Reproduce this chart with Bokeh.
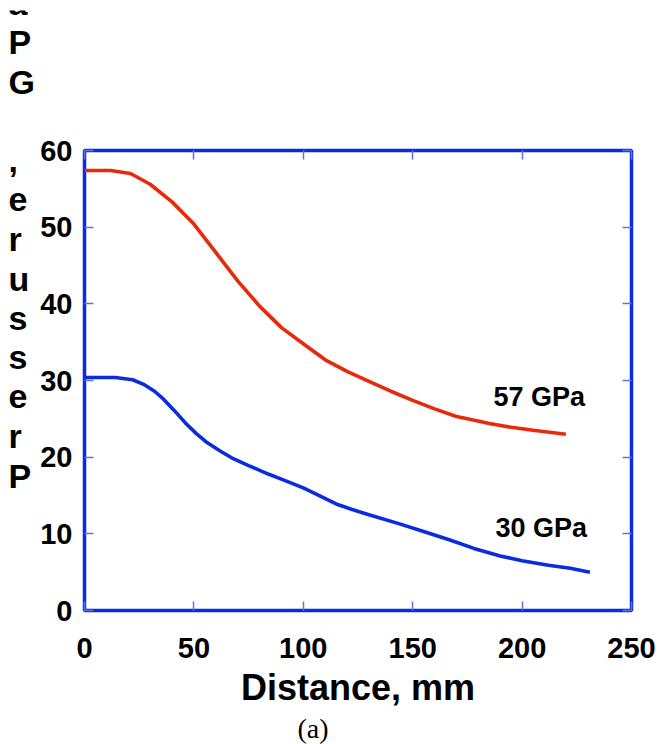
from bokeh.plotting import figure
from bokeh.models import LinearAxis, FixedTicker, Label, Spacer, Range1d, Title
from bokeh.layouts import column, row
from bokeh.core.properties import value
from bokeh.embed import file_html
from bokeh.resources import INLINE

# ---- data ----
distance_57 = [0, 12, 21, 30, 40, 50, 60, 70, 80, 90, 100, 110, 120, 130, 140,
               150, 160, 170, 175, 185, 195, 205, 220]
pressure_57 = [57.4, 57.4, 57.0, 55.6, 53.3, 50.4, 46.7, 43.0, 39.7, 36.9, 34.8,
               32.7, 31.2, 29.9, 28.6, 27.4, 26.3, 25.3, 25.0, 24.4, 23.9, 23.5, 23.0]

distance_30 = [0, 14, 22, 27, 32, 36, 41, 46, 51, 56, 62, 68, 75, 84, 92, 100,
               108, 115, 122, 130, 144, 155, 167, 178, 190, 200, 212, 222, 231]
pressure_30 = [30.4, 30.4, 30.1, 29.5, 28.6, 27.6, 26.1, 24.5, 23.1, 21.9, 20.8,
               19.8, 18.9, 17.8, 16.9, 16.0, 14.9, 13.9, 13.2, 12.5, 11.3, 10.3,
               9.2, 8.1, 7.1, 6.5, 5.9, 5.5, 5.0]

x_ticks = [0, 50, 100, 150, 200, 250]
y_ticks = [0, 10, 20, 30, 40, 50, 60]
series_labels = ["57 GPa", "30 GPa"]
x_title = "Distance, mm"
y_title = "Pressure, GPa"
caption = "(a)"

# ---- styles ----
BLUE = "#0b2be0"
RED = "#e8290b"
TICK = "#5b73ee"
FONT = "Liberation Sans"

X_MAX, Y_MAX = 250, 60
PX_PER_Y = 460 / Y_MAX          # frame height / y span
CANVAS_H = 734
BORDER_TOP, BORDER_BOTTOM = 140, 134
STRIP_W = 35

p = figure(width=660 - STRIP_W, height=CANVAS_H, x_range=Range1d(0, X_MAX),
           y_range=Range1d(0, Y_MAX),
           output_backend="svg", toolbar_location=None,
           min_border_left=49, min_border_right=29, min_border_top=BORDER_TOP,
           min_border_bottom=BORDER_BOTTOM)
p.frame_align = False
p.grid.visible = False
p.outline_line_color = BLUE
p.outline_line_width = 3.5
p.background_fill_color = "white"
p.border_fill_color = "white"


def style_axis(ax, ticks, show_labels):
    ax.ticker = FixedTicker(ticks=ticks)
    ax.axis_line_color = None
    ax.major_tick_in = 9
    ax.major_tick_out = 0
    ax.major_tick_line_color = TICK
    ax.major_tick_line_width = 1.5
    ax.minor_tick_line_color = None
    ax.major_label_text_font = FONT
    ax.major_label_text_font_style = "bold"
    ax.major_label_text_font_size = "29px"
    ax.major_label_text_color = "black" if show_labels else None
    ax.axis_label_standoff = 0


style_axis(p.xaxis[0], x_ticks, True)
style_axis(p.yaxis[0], y_ticks, True)
p.xaxis[0].major_label_standoff = 27
p.yaxis[0].major_label_standoff = 12
p.xaxis[0].axis_label = x_title
p.xaxis[0].axis_label_text_font = FONT
p.xaxis[0].axis_label_text_font_style = "bold"
p.xaxis[0].axis_label_text_font_size = "36px"
p.xaxis[0].axis_label_text_color = "black"
p.xaxis[0].axis_label_standoff = 6

top_axis = LinearAxis()
style_axis(top_axis, x_ticks, False)
p.add_layout(top_axis, "above")
right_axis = LinearAxis()
style_axis(right_axis, y_ticks, False)
p.add_layout(right_axis, "right")

p.line(distance_57, pressure_57, line_color=RED, line_width=3.6)
p.line(distance_30, pressure_30, line_color=BLUE, line_width=3.6)

p.add_layout(Label(x=186.9, y=27.8, text=series_labels[0], text_font=FONT,
                   text_font_style="bold", text_font_size="27px", text_color="black",
                   text_align="left", text_baseline="alphabetic"))
p.add_layout(Label(x=187.8, y=10.7, text=series_labels[1], text_font=FONT,
                   text_font_style="bold", text_font_size="27px", text_color="black",
                   text_align="left", text_baseline="alphabetic"))

p.add_layout(Title(text=caption, align="left", offset=213, text_font="Liberation Serif",
                   text_font_size="28px", text_font_style="normal",
                   text_color="black", standoff=0), "below")

# left strip carrying the stacked y-axis title (letters upright, reading bottom to top)
strip_top = Y_MAX + BORDER_TOP / PX_PER_Y        # same y scale as the main frame
strip_bottom = -BORDER_BOTTOM / PX_PER_Y
left = figure(width=STRIP_W, height=CANVAS_H, x_range=Range1d(0, STRIP_W),
              y_range=Range1d(strip_bottom, strip_top),
              output_backend="svg", toolbar_location=None, min_border=0,
              x_axis_location=None, y_axis_location=None)
left.title = None
left.frame_align = False
left.grid.visible = False
left.outline_line_color = None
chars = [c for c in y_title]
letter_y = [17.6 + i * 5.139 for i in range(len(chars))]
keep = [i for i, c in enumerate(chars) if c != " "]
left.text(x=[8] * len(keep), y=[letter_y[i] for i in keep], text=[chars[i] for i in keep],
          text_font=value(FONT), text_font_style="bold", text_font_size="34px",
          text_color="black", text_align="left", text_baseline="alphabetic")

layout = column(Spacer(width=660, height=10), row(left, p, spacing=0), spacing=0)
open("out.html", "w").write(file_html(layout, INLINE))
